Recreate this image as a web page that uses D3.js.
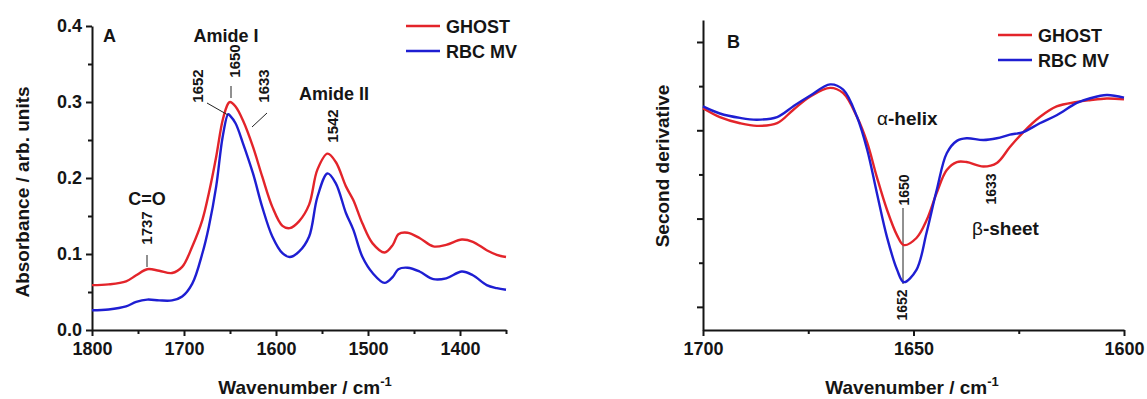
<!DOCTYPE html>
<html><head><meta charset="utf-8">
<script src="https://cdn.jsdelivr.net/npm/d3@7"></script>
<style>
body{margin:0;background:#fff}
svg{display:block}
text{font-family:"Liberation Sans",Arial,sans-serif;font-weight:bold;fill:#151515}
</style>
</head><body><svg id="c" width="1147" height="399"></svg>
<script>
// ---------- Panel A data (absorbance) ----------
const wnA = [1800,1782,1763,1752,1740,1727,1713,1702,1691,1680,1673,1665,1658,1652,1650,1644,1636,1625,1615,1604,1593,1585,1575,1564,1555,1544,1535,1524,1516,1506,1495,1482,1473,1467,1457,1444,1429,1415,1398,1386,1371,1360,1350];
const ghostA = [0.059,0.060,0.064,0.072,0.080,0.078,0.075,0.083,0.110,0.145,0.180,0.228,0.276,0.298,0.300,0.294,0.276,0.241,0.202,0.162,0.137,0.134,0.143,0.165,0.211,0.232,0.221,0.189,0.171,0.140,0.114,0.102,0.112,0.126,0.128,0.121,0.110,0.112,0.119,0.116,0.105,0.099,0.096];
const rbcA = [0.026,0.027,0.031,0.037,0.040,0.039,0.039,0.044,0.061,0.101,0.136,0.189,0.254,0.284,0.282,0.272,0.246,0.206,0.162,0.123,0.101,0.096,0.103,0.123,0.175,0.206,0.193,0.154,0.132,0.096,0.075,0.062,0.070,0.080,0.082,0.077,0.067,0.068,0.077,0.072,0.059,0.055,0.053];
const xTicksA = [1800,1700,1600,1500,1400];
const xMinorA = [1750,1650,1550,1450,1350];
const yTicksA = [0,0.1,0.2,0.3,0.4];
const yMinorA = [0.05,0.15,0.25,0.35];

// ---------- Panel B data (second derivative, arb. units) ----------
const wnB = [1700,1696,1691.2,1687.2,1682.4,1678.6,1674.6,1669.8,1666.7,1663.4,1661,1658.7,1656.3,1653.9,1652.3,1649.3,1646.9,1644.5,1642.1,1639.7,1637.4,1633.4,1630.2,1627.1,1623.9,1620,1616,1611.2,1608.2,1604.1,1600];
const ghostB = [-0.75,-0.85,-0.92,-0.95,-0.92,-0.77,-0.62,-0.52,-0.58,-0.85,-1.14,-1.53,-1.90,-2.19,-2.30,-2.22,-2.02,-1.71,-1.45,-1.36,-1.36,-1.41,-1.37,-1.19,-1.02,-0.85,-0.73,-0.68,-0.66,-0.64,-0.65];
const rbcB = [-0.73,-0.81,-0.86,-0.88,-0.85,-0.73,-0.61,-0.48,-0.54,-0.85,-1.22,-1.71,-2.21,-2.58,-2.72,-2.58,-2.16,-1.68,-1.26,-1.12,-1.09,-1.11,-1.09,-1.05,-1.02,-0.92,-0.83,-0.69,-0.64,-0.60,-0.63];
const xTicksB = [1700,1650,1600];
const xMinorB = [1675,1625];
const yTicksB = [-3,-2,-1,0];
const yMinorB = [-2.5,-1.5,-0.5];

const seriesNames = ["GHOST","RBC MV"];
const RED = "#e3242a", BLUE = "#1e1ed2";

const svg = d3.select("#c");

function styleAxis(g, size){
  g.attr("font-family", null).attr("font-size", null);
  g.selectAll(".domain").attr("stroke","#151515").attr("stroke-width",2);
  g.selectAll(".tick line").attr("stroke","#151515").attr("stroke-width",2);
  g.selectAll("text").style("font-size", size+"px").attr("fill","#151515");
}
function axes(xs, ys, xT, xM, yT, yM, yFmt, y0, x0){
  const gx = svg.append("g").attr("transform",`translate(0,${y0})`)
    .call(d3.axisBottom(xs).tickValues(xT).tickFormat(d3.format("d")).tickSize(6).tickPadding(6).tickSizeOuter(0));
  styleAxis(gx, 18);
  const gxm = svg.append("g").attr("transform",`translate(0,${y0})`)
    .call(d3.axisBottom(xs).tickValues(xM).tickFormat("").tickSize(4).tickSizeOuter(0));
  gxm.select(".domain").remove(); styleAxis(gxm, 18);
  const gy = svg.append("g").attr("transform",`translate(${x0},0)`)
    .call(d3.axisLeft(ys).tickValues(yT).tickFormat(yFmt).tickSize(6).tickPadding(4).tickSizeOuter(0));
  styleAxis(gy, 18);
  const gym = svg.append("g").attr("transform",`translate(${x0},0)`)
    .call(d3.axisLeft(ys).tickValues(yM).tickFormat("").tickSize(4).tickSizeOuter(0));
  gym.select(".domain").remove(); styleAxis(gym, 18);
}

// ---------- Panel A ----------
const xA = d3.scaleLinear().domain([1800,1350]).range([92,506]);
const yA = d3.scaleLinear().domain([0,0.4]).range([330,26]);
axes(xA, yA, xTicksA, xMinorA, yTicksA, yMinorA, d3.format(".1f"), 330, 92);

const lineA = d3.line().x(d=>xA(d[0])).y(d=>yA(d[1])).curve(d3.curveCatmullRom.alpha(0.5));
svg.append("path").datum(d3.zip(wnA, ghostA)).attr("d", lineA).attr("fill","none").attr("stroke",RED).attr("stroke-width",2.4);
svg.append("path").datum(d3.zip(wnA, rbcA)).attr("d", lineA).attr("fill","none").attr("stroke",BLUE).attr("stroke-width",2.4);

// ---------- Panel B ----------
const xB = d3.scaleLinear().domain([1700,1600]).range([703,1124]);
const yB = d3.scaleLinear().domain([-3.262,0.249]).range([330,20]);
axes(xB, yB, xTicksB, xMinorB, yTicksB, yMinorB, "", 330, 703);
const lineB = d3.line().x(d=>xB(d[0])).y(d=>yB(d[1])).curve(d3.curveCatmullRom.alpha(0.5));

// annotation line behind curves in B
svg.append("line").attr("x1",903).attr("x2",903).attr("y1",208).attr("y2",284).attr("stroke","#222").attr("stroke-width",1);

svg.append("path").datum(d3.zip(wnB, ghostB)).attr("d", lineB).attr("fill","none").attr("stroke",RED).attr("stroke-width",2.4);
svg.append("path").datum(d3.zip(wnB, rbcB)).attr("d", lineB).attr("fill","none").attr("stroke",BLUE).attr("stroke-width",2.4);

// ---------- text helpers ----------
function txt(x,y,t,size,anchor){
  return svg.append("text").attr("x",x).attr("y",y).attr("text-anchor",anchor||"start").style("font-size",size+"px").text(t);
}
function vtxt(x,y,t,size){
  return svg.append("text").attr("transform",`translate(${x},${y}) rotate(-90)`).attr("text-anchor","middle").attr("dy","0.35em").style("font-size",size+"px").text(t);
}
function seg(x1,y1,x2,y2){
  svg.append("line").attr("x1",x1).attr("y1",y1).attr("x2",x2).attr("y2",y2).attr("stroke","#222").attr("stroke-width",1);
}
function axisTitle(x,y,rot){
  return svg.append("text").attr("text-anchor","middle").style("font-size","19px")
    .attr("transform", rot ? `translate(${x},${y}) rotate(-90)` : `translate(${x},${y})`);
}

// Panel A annotations
txt(103,42,"A",18);
txt(226,42,"Amide I",18,"middle");
vtxt(198,86,"1652",15);
vtxt(235,61,"1650",15);
vtxt(264,86,"1633",15);
seg(231,86,231,98);
seg(207,103,228,115);
seg(267,113,252,127);
txt(147,205,"C=O",18,"middle");
vtxt(147,228,"1737",15);
seg(147,255,147,267);
txt(334,100,"Amide II",18,"middle");
vtxt(333,126,"1542",15);

// Legend A
[RED,BLUE].forEach((c,i)=>{
  const y = 26 + i*25;
  svg.append("line").attr("x1",406).attr("x2",440).attr("y1",y).attr("y2",y).attr("stroke",c).attr("stroke-width",2.4);
  txt(446,y+6.5,seriesNames[i],18);
});

// Axis titles A
const tA = axisTitle(305,394,false);
tA.append("tspan").text("Wavenumber / cm");
tA.append("tspan").attr("dy",-8).style("font-size","13px").text("-1");
axisTitle(22,192,true).attr("dy","0.35em").text("Absorbance / arb. units");

// Panel B annotations
txt(727,48,"B",18);
const ah = txt(877,125,"",19);
ah.append("tspan").style("font-weight","normal").text("α");
ah.append("tspan").text("-helix");
const bs = txt(972,235,"",19);
bs.append("tspan").style("font-weight","normal").text("β");
bs.append("tspan").text("-sheet");
vtxt(904,190,"1650",14);
vtxt(991,189,"1633",14);
vtxt(902,305,"1652",14);

// Legend B
[RED,BLUE].forEach((c,i)=>{
  const y = 35 + i*25;
  svg.append("line").attr("x1",998).attr("x2",1032).attr("y1",y).attr("y2",y).attr("stroke",c).attr("stroke-width",2.4);
  txt(1038,y+6.5,seriesNames[i],18);
});

const tB = axisTitle(912,394,false);
tB.append("tspan").text("Wavenumber / cm");
tB.append("tspan").attr("dy",-8).style("font-size","13px").text("-1");
axisTitle(662,166,true).attr("dy","0.35em").text("Second derivative");
</script></body></html>
